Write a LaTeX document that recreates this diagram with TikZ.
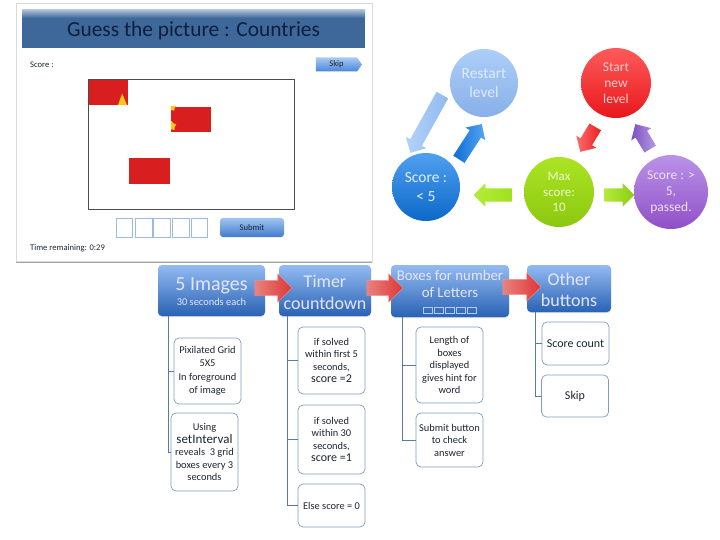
\documentclass[tikz,border=0pt]{standalone}
\usepackage{fontspec}
\setmainfont{Carlito}
\usetikzlibrary{arrows.meta,positioning,calc,shadows,shapes.arrows,shapes.geometric,shapes.symbols}
\definecolor{treeline}{HTML}{5A7AA2}
\definecolor{boxedge}{HTML}{7F9CC2}
\definecolor{answeredge}{HTML}{9DBADB}
\definecolor{inktext}{HTML}{1E2430}
\definecolor{headtop}{HTML}{93BBF2}
\definecolor{headlow}{HTML}{2A62B4}
\definecolor{banner}{HTML}{3D6899}
\definecolor{flagred}{HTML}{D81E1E}
\definecolor{flagstar}{HTML}{F8C81C}
\newcommand{\fsz}[1]{\fontsize{#1}{\the\dimexpr#1pt*12/10\relax}\selectfont}
\begin{document}
\begin{tikzpicture}[x=1pt,y=-1pt,
  headbox/.style={rounded corners=4pt,top color=headtop,bottom color=headlow,inner sep=0pt,align=center,text=white!90!blue,drop shadow={shadow xshift=0pt,shadow yshift=-1pt,opacity=.3}},
  headtext/.style={inner sep=0pt,align=center,text=white!90!blue},
  subbox/.style={draw=boxedge,fill=white,line width=.7pt,rounded corners=5pt,inner sep=0pt,align=center,text=inktext,font=\fsz{10.4},minimum width=67pt},
  treelink/.style={draw=treeline,line width=.9pt},
  bubble/.style={circle,inner sep=0pt,align=center},
  blockarrow/.style={single arrow,inner sep=0pt,text height=13pt,text depth=0pt,text width=0pt,single arrow head extend=5pt,minimum width=23pt},
  redarrow/.style={single arrow,inner sep=0pt,text height=15pt,text depth=0pt,text width=0pt,minimum width=28pt,single arrow head extend=6.5pt,left color={rgb,255:red,232;green,130;blue,125},right color={rgb,255:red,222;green,55;blue,55},draw={rgb,255:red,235;green,150;blue,150},line width=.3pt},
  flagtile/.style={fill=flagred,draw=none,inner sep=0pt},
  answerbox/.style={draw=answeredge,fill=white,line width=.9pt,minimum width=16.5pt,minimum height=19pt,inner sep=0pt},
  letterbox/.style={draw={rgb,255:red,175;green,203;blue,245},line width=.6pt,minimum width=8.5pt,minimum height=6.5pt,inner sep=0pt}]
\useasboundingbox (0,0) rectangle (720,540);
\node[draw=black!15,fill=white,minimum width=356pt,minimum height=258pt,inner sep=0pt,drop shadow={shadow xshift=0pt,shadow yshift=-1.5pt,opacity=.7}] (slide) at (194,132) {};
\node[fill=banner,minimum width=343pt,minimum height=38pt,inner sep=0pt] (header) at (193.5,29) {};
\shade[top color={rgb,255:red,170;green,190;blue,215},bottom color=banner] (22,10) rectangle (365,18);
\node[font=\fsz{21.4},text={rgb,255:red,13;green,31;blue,60},inner sep=0pt] (title) at (193.5,30.5) {Guess the picture : Countries};
\node[font=\fsz{8.6},anchor=west,text=inktext,inner sep=0pt] (score) at (30,65) {Score :};
\node[signal,signal to=east,signal pointer angle=110,top color={rgb,255:red,170;green,202;blue,242},bottom color={rgb,255:red,72;green,134;blue,216},minimum width=46pt,minimum height=14pt,inner sep=0pt,font=\fsz{8.6},text=inktext] (skip) at (336.5,64.5) {Skip};
\node[flagtile,minimum width=40pt,minimum height=25pt] (tile1) at (108,92.5) {};
\node[flagtile,minimum width=40pt,minimum height=25pt] (tile2) at (191,119.5) {};
\node[flagtile,minimum width=41pt,minimum height=26pt] (tile3) at (149.5,171) {};
\fill[flagstar] (122.2,93.5) -- (127,105) -- (118,105) -- cycle;
\begin{scope}
\clip (tile2.north west) rectangle (tile2.south east);
\node[star,fill=flagstar,minimum size=10pt,inner sep=0pt] (star1) at (171.5,126) {};
\node[star,fill=flagstar,minimum size=8pt,inner sep=0pt] (star2) at (172,107.5) {};
\end{scope}
\node[draw=black!70,line width=1pt,minimum width=206pt,minimum height=130pt,inner sep=0pt] (grid) at (191,145) {};
\foreach \i/\xc in {1/124.5,2/144,3/162,4/181,5/199.5}
  \node[answerbox] (ans\i) at (\xc,227.5) {};
\node[rounded corners=3pt,top color={rgb,255:red,160;green,196;blue,242},bottom color={rgb,255:red,66;green,124;blue,204},minimum width=64pt,minimum height=19pt,inner sep=0pt,font=\fsz{8.6},text=inktext] (submit) at (252,227.5) {Submit};
\node[font=\fsz{8.6},anchor=west,text=inktext,inner sep=0pt] (remain) at (30,248) {Time remaining: 0:29};

\node[bubble,minimum size=68pt,top color={rgb,255:red,172;green,206;blue,248},bottom color={rgb,255:red,136;green,176;blue,232},text={rgb,255:red,222;green,235;blue,252},font=\fsz{15.5}] (restart) at (484,83) {Restart\\level};
\node[bubble,minimum size=70pt,top color={rgb,255:red,255;green,90;blue,90},bottom color={rgb,255:red,232;green,24;blue,28},text={rgb,255:red,255;green,205;blue,205},font=\fsz{13.5}] (start) at (616,83) {Start\\new\\level};
\node[bubble,minimum size=68pt,top color={rgb,255:red,80;green,160;blue,240},bottom color={rgb,255:red,12;green,104;blue,200},text={rgb,255:red,225;green,240;blue,255},font=\fsz{15.5}] (low) at (426,187) {Score :\\\textless{} 5};
\node[bubble,minimum size=70pt,top color={rgb,255:red,172;green,228;blue,36},bottom color={rgb,255:red,140;green,200;blue,16},text={rgb,255:red,236;green,250;blue,200},font=\fsz{13}] (max) at (559,192) {Max\\score:\\10};
\node[bubble,minimum size=74pt,top color={rgb,255:red,186;green,146;blue,232},bottom color={rgb,255:red,144;green,80;blue,200},text={rgb,255:red,238;green,225;blue,250},font=\fsz{13.5}] (high) at (671,192) {Score : \textgreater\\5,\\passed.};

\node[blockarrow,minimum height=66pt,rotate=241,left color={rgb,255:red,178;green,210;blue,250},right color={rgb,255:red,146;green,186;blue,238}] (arrback) at (428,121) {};
\node[blockarrow,minimum height=42pt,rotate=57,left color={rgb,255:red,14;green,110;blue,210},right color={rgb,255:red,84;green,165;blue,245}] (arrup) at (468.5,144.5) {};
\node[blockarrow,minimum height=38pt,rotate=180,left color={rgb,255:red,180;green,235;blue,60},right color={rgb,255:red,160;green,225;blue,30}] (arrleft) at (496,195) {};
\node[blockarrow,minimum height=30pt,left color={rgb,255:red,180;green,235;blue,60},right color={rgb,255:red,140;green,205;blue,20}] (arrright) at (616,195) {};
\node[blockarrow,minimum height=29pt,rotate=239,left color={rgb,255:red,255;green,110;blue,110},right color={rgb,255:red,232;green,30;blue,30}] (arrred) at (589.5,136.5) {};
\node[blockarrow,minimum height=29pt,rotate=121,left color={rgb,255:red,125;green,80;blue,190},right color={rgb,255:red,180;green,155;blue,230}] (arrpurple) at (644.5,139.5) {};

\node[subbox,minimum height=66pt] (pixel) at (207.5,371) {Pixilated Grid\\5X5\\[2pt]In foreground\\of image};
\node[subbox,minimum height=78pt] (using) at (204.5,452) {Using\\{\fsz{13}setInterval}\\reveals\ \ 3 grid\\boxes every 3\\seconds};
\node[subbox,minimum height=67pt] (first) at (331.5,360.5) {if solved\\within first 5\\seconds,\\{\fsz{12}score =2}};
\node[subbox,minimum height=69pt] (within) at (331.5,439.5) {if solved\\within 30\\seconds,\\{\fsz{12}score =1}};
\node[subbox,minimum height=43pt] (otherwise) at (331.5,505.5) {Else score = 0};
\node[subbox,minimum height=76pt] (length) at (449.5,365) {Length of\\boxes\\displayed\\gives hint for\\word};
\node[subbox,minimum height=54pt] (check) at (449.5,440) {Submit button\\to check\\answer};
\node[subbox,minimum height=43pt,font=\fsz{12}] (count) at (575.5,343.5) {Score count};
\node[subbox,minimum height=42pt,font=\fsz{12}] (skipbox) at (575,396) {Skip};

\node[headbox,minimum width=107pt,minimum height=51pt] (images) at (211.5,290.5) {};
\node[headbox,minimum width=92pt,minimum height=51pt] (timer) at (325,290.5) {};
\node[headbox,minimum width=118pt,minimum height=52pt] (letters) at (450,291) {};
\node[headbox,minimum width=84pt,minimum height=47pt] (others) at (569,288.5) {};
\node[headtext] (imagestext) at (211.5,292) {{\fsz{20}5 Images}\\[3pt]{\fsz{10.4}30 seconds each}};
\node[headtext,font=\fsz{18}] (timertext) at (325,292.5) {Timer\\countdown};
\node[headtext,font=\fsz{14.8}] (letterstext) at (450,284) {Boxes for number\\of Letters};
\node[headtext,font=\fsz{18}] (otherstext) at (569,290) {Other\\buttons};
\foreach \i/\xc in {1/428,2/439,3/450,4/461,5/472}
  \node[letterbox] (let\i) at (\xc,310.5) {};

\draw[treelink] ($(images.south west)+(11,0)$) |- (pixel.west);
\draw[treelink] ($(images.south west)+(11,0)$) |- (using.west);
\draw[treelink] ($(timer.south west)+(9,0)$) |- (first.west);
\draw[treelink] ($(timer.south west)+(9,0)$) |- (within.west);
\draw[treelink] ($(timer.south west)+(9,0)$) |- (otherwise.west);
\draw[treelink] ($(letters.south west)+(12,0)$) |- (length.west);
\draw[treelink] ($(letters.south west)+(12,0)$) |- (check.west);
\draw[treelink] ($(others.south west)+(9,0)$) |- (count.west);
\draw[treelink] ($(others.south west)+(9,0)$) |- (skipbox.west);

\node[redarrow,minimum height=37pt] (step1) at (269.5,288) {};
\node[redarrow,minimum height=36pt] (step2) at (381,288) {};
\node[redarrow,minimum height=38pt] (step3) at (518,287) {};
\end{tikzpicture}
\end{document}
